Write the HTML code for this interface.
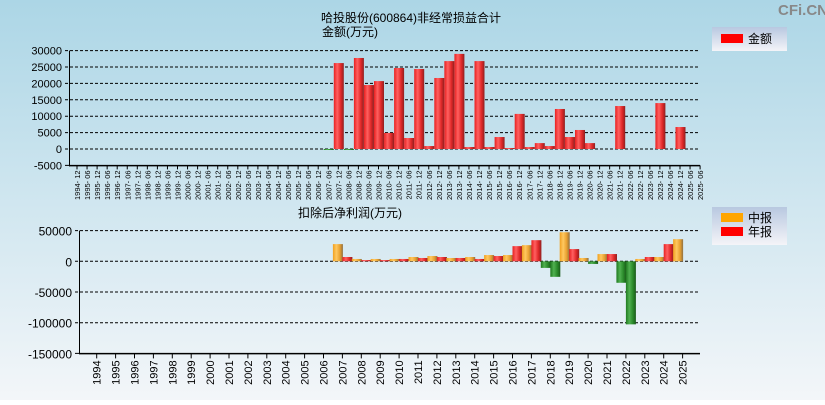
<!DOCTYPE html>
<html><head><meta charset="utf-8"><style>
body{margin:0;width:825px;height:400px;overflow:hidden;font-family:"Liberation Sans","Noto Sans CJK SC",sans-serif}
svg text{font-family:"Liberation Sans","Noto Sans CJK SC",sans-serif}
</style></head><body>
<svg id="c" width="825" height="400" xmlns="http://www.w3.org/2000/svg">
<defs>
<linearGradient id="bg" x1="0" y1="0" x2="0" y2="1"><stop offset="0" stop-color="#acd6e6"/><stop offset="1" stop-color="#f3f6f9"/></linearGradient>
<linearGradient id="gr" x1="0" y1="0" x2="1" y2="0"><stop offset="0" stop-color="#e82020"/><stop offset="0.35" stop-color="#ff6060"/><stop offset="0.7" stop-color="#e02828"/><stop offset="1" stop-color="#902020"/></linearGradient>
<linearGradient id="go" x1="0" y1="0" x2="1" y2="0"><stop offset="0" stop-color="#f0a020"/><stop offset="0.35" stop-color="#ffc860"/><stop offset="0.7" stop-color="#e8a030"/><stop offset="1" stop-color="#907040"/></linearGradient>
<linearGradient id="gg" x1="0" y1="0" x2="1" y2="0"><stop offset="0" stop-color="#207a20"/><stop offset="0.35" stop-color="#50b050"/><stop offset="0.7" stop-color="#2a8a2a"/><stop offset="1" stop-color="#1a5a1a"/></linearGradient>
<linearGradient id="lg" x1="0" y1="0" x2="0" y2="1"><stop offset="0" stop-color="#b8c8e0"/><stop offset="1" stop-color="#f4f4f8"/></linearGradient>
</defs>
<rect width="825" height="400" fill="url(#bg)"/>
<text x="778" y="15" font-size="15" font-weight="bold" fill="#888">CFi.CN</text>
<text x="411" y="22" font-size="12" text-anchor="middle">哈投股份(600864)非经常损益合计</text>
<text x="350" y="36" font-size="12" text-anchor="middle">金额(万元)</text>
<text x="350" y="217" font-size="12" text-anchor="middle">扣除后净利润(万元)</text>
<g>
<rect x="712" y="27" width="75" height="24" fill="url(#lg)"/>
<rect x="721" y="34" width="22" height="9" fill="#ff0000"/>
<text x="748" y="43" font-size="12">金额</text></g>
<g>
<rect x="712" y="207" width="75" height="38" fill="url(#lg)"/>
<rect x="721" y="213" width="22" height="9" fill="#ffa500"/>
<text x="748" y="222" font-size="12">中报</text>
<rect x="721" y="227" width="22" height="9" fill="#ff0000"/>
<text x="748" y="236" font-size="12">年报</text></g>
<g id="top"></g><g id="bot"></g>
</svg>
<script>
const periods=[];for(let y=1994;y<=2025;y++){if(y>1994)periods.push(y+'-06');if(y<2025)periods.push(y+'-12');}
periods.push('2025-06');
const topVals=[0,0,0,0,0,0,0,0,0,0,0,0,0,0,0,0,0,0,0,0,0,0,0,0,0,-100,26200,-100,27750,19500,20700,4900,24700,3350,24400,900,21650,26800,29000,600,26800,600,3650,300,10700,600,1800,900,12200,3650,5800,1800,0,0,13100,0,0,0,14000,0,6700,0];
const topTicks=[30000,25000,20000,15000,10000,5000,0,-5000];
const years=[];for(let y=1994;y<=2025;y++)years.push(y);
const interim=[0,0,0,0,0,0,0,0,0,0,0,0,0,28000,3800,3800,3800,7000,8600,5400,7000,10200,10200,26300,-10750,47300,5400,11800,-35000,3800,7000,36000];
const annual=[0,0,0,0,0,0,0,0,0,0,0,0,0,7000,2000,2000,3800,5400,7000,5400,3800,8600,24700,34400,-25300,19900,-4300,11800,-102700,7000,28000,null];
const botTicks=[50000,0,-50000,-100000,-150000];
const NS='http://www.w3.org/2000/svg';
function mk(p,t,a){const e=document.createElementNS(NS,t);for(const k in a)e.setAttribute(k,a[k]);p.appendChild(e);return e;}
// top chart
const T=document.getElementById('top');
const ty=v=>149-(v/5000)*16.4;
const tx=i=>77+i*10.05;
topTicks.forEach(v=>{const y=ty(v);
 const l=mk(T,'line',{x1:65,x2:700,y1:y,y2:y,stroke:'#000','stroke-dasharray':v==-5000?'':'3,2'});
 
 const t=mk(T,'text',{x:62,y:y+4,'font-size':11,'text-anchor':'end'});t.textContent=v;
 });
mk(T,'line',{x1:69.5,x2:69.5,y1:ty(30000),y2:ty(-5000)+1,stroke:'#000'});
mk(T,'line',{x1:69,x2:700,y1:ty(-5000)+0.5,y2:ty(-5000)+0.5,stroke:'#000'});
periods.forEach((p,i)=>{const x=tx(i);
 mk(T,'line',{x1:x,x2:x,y1:ty(-5000),y2:ty(-5000)+4,stroke:'#000'});
 const t=mk(T,'text',{x:0,y:0,'font-size':7.5,transform:`translate(${x+3},${ty(-5000)+5}) rotate(-90)`,'text-anchor':'end'});
 t.textContent=p.replace('-','- ');
 
 const v=topVals[i];if(!v)return;
 const y0=ty(0),y1=ty(v);
 const r=mk(T,'rect',{x:x-4.5,y:Math.min(y0,y1),width:10,height:Math.max(1,Math.abs(y1-y0)),fill:v<0?'url(#gg)':'url(#gr)'});
 });
// bottom chart
const B=document.getElementById('bot');
const by=v=>261.3-(v/50000)*30.7;
const bx=i=>96.7+i*18.9;
botTicks.forEach(v=>{const y=by(v);
 const l=mk(B,'line',{x1:75,x2:700,y1:y,y2:y,stroke:'#000','stroke-dasharray':v==-150000?'':'3,2'});
 
 const t=mk(B,'text',{x:72,y:y+5,'font-size':12,'text-anchor':'end'});t.textContent=v;
 });
mk(B,'line',{x1:79.5,x2:79.5,y1:by(50000),y2:by(-150000),stroke:'#000'});
mk(B,'line',{x1:79,x2:700,y1:by(-150000)+0.5,y2:by(-150000)+0.5,stroke:'#000'});
years.forEach((yr,i)=>{const c=bx(i);
 mk(B,'line',{x1:c,x2:c,y1:by(-150000),y2:by(-150000)+5,stroke:'#000'});
 const t=mk(B,'text',{x:0,y:0,'font-size':11,transform:`translate(${c+4},${by(-150000)+7}) rotate(-90)`,'text-anchor':'end'});
 t.textContent=yr;
 [[interim[i],c-9.5,'url(#go)','interim'],[annual[i],c,'url(#gr)','annual']].forEach(([v,x,f,n])=>{
  if(!v)return;const y0=by(0),y1=by(v);
  const r=mk(B,'rect',{x:x,y:Math.min(y0,y1),width:10,height:Math.max(1,Math.abs(y1-y0)),fill:v<0?'url(#gg)':f});
  });});
</script>
</body></html>
